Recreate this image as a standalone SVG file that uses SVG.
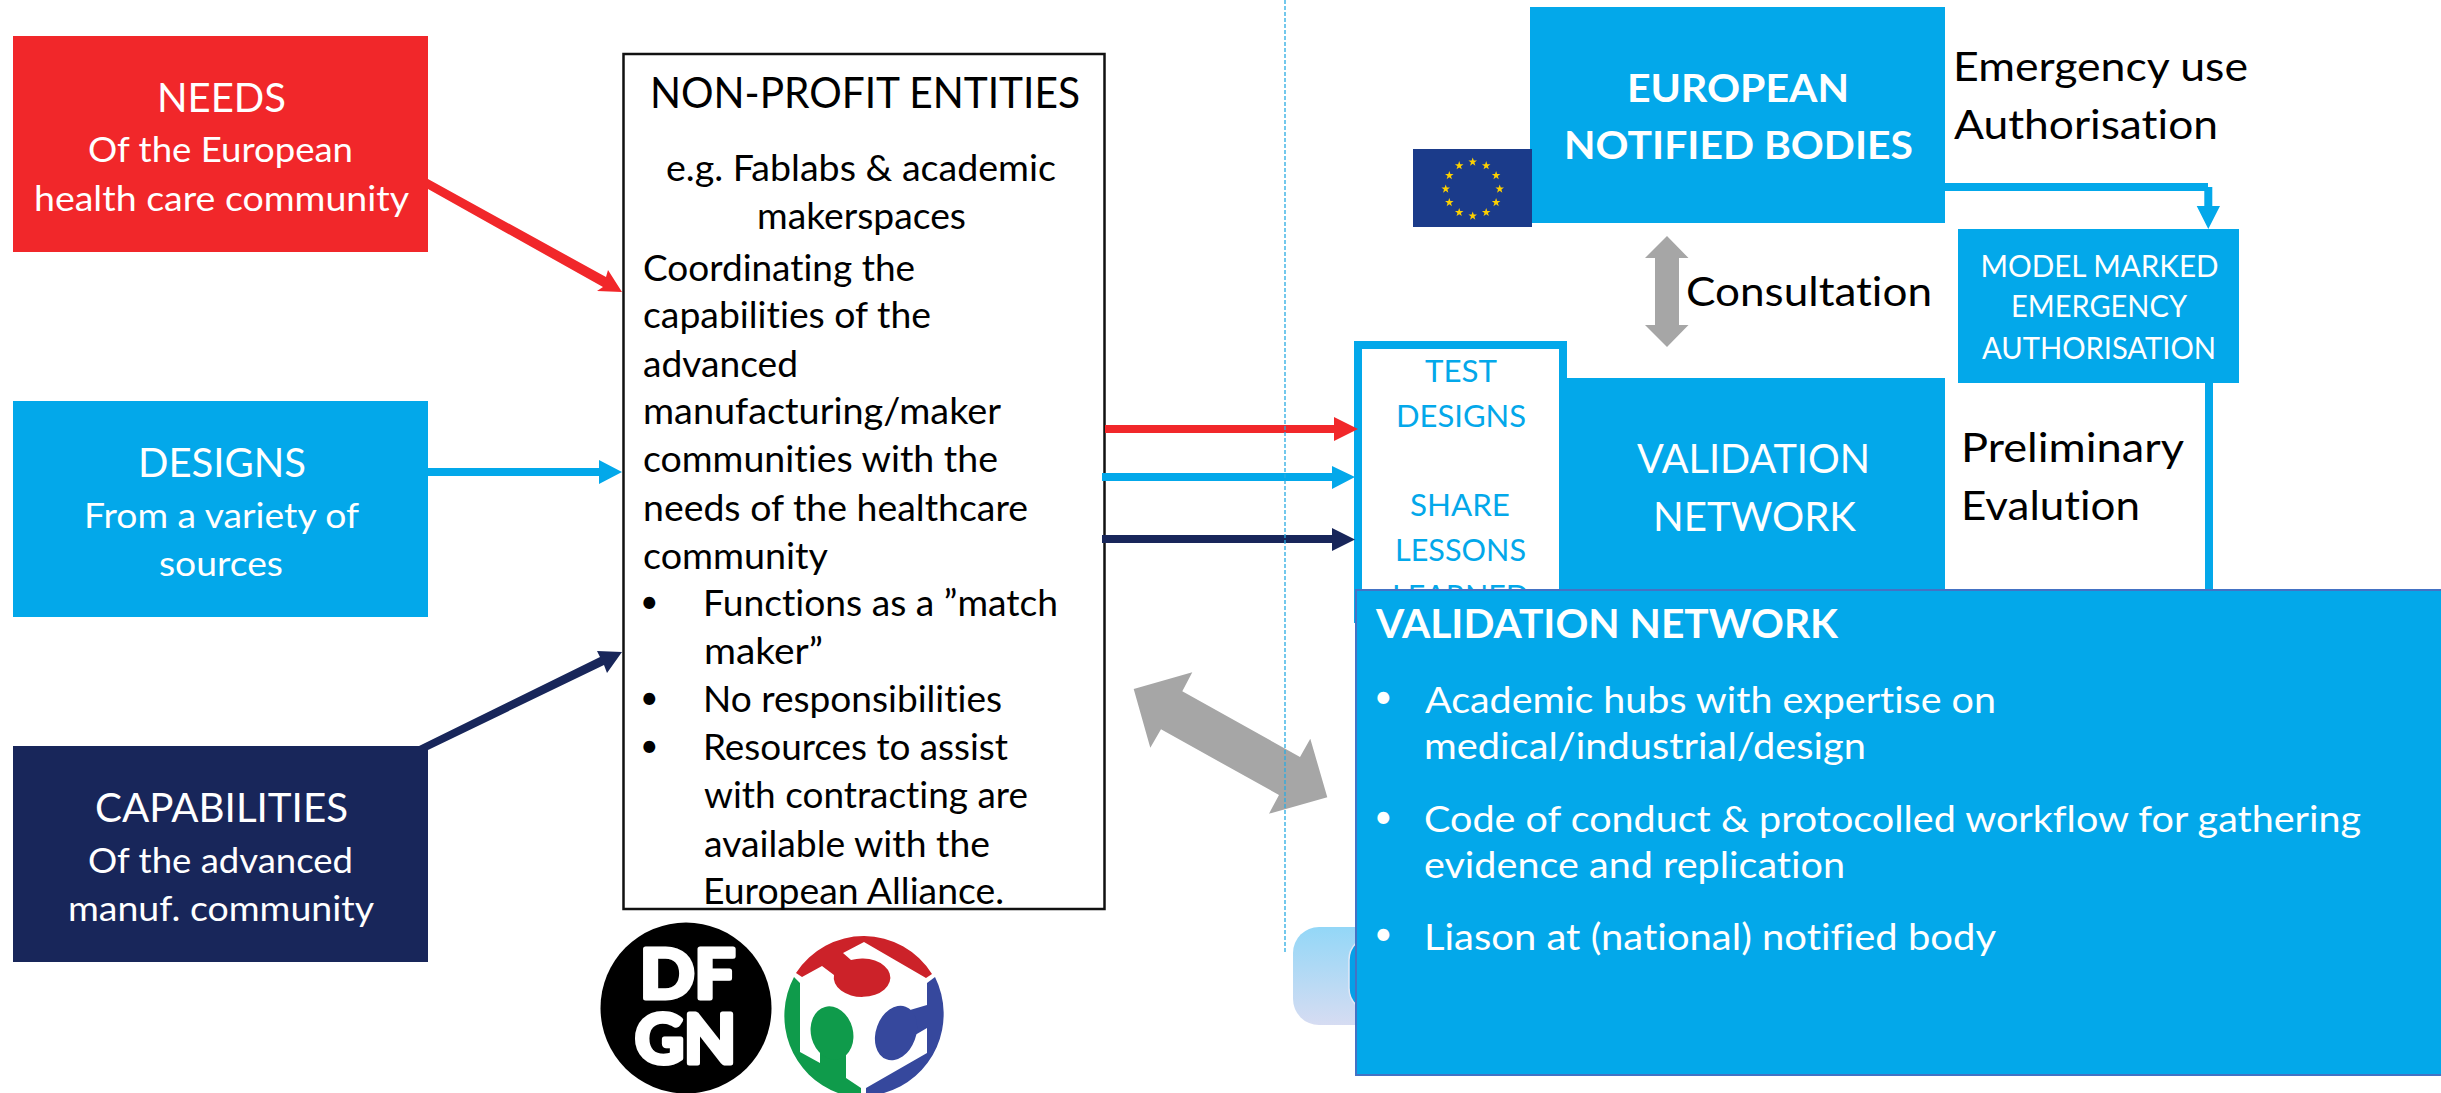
<svg xmlns="http://www.w3.org/2000/svg" xmlns:xlink="http://www.w3.org/1999/xlink" width="2441" height="1093" viewBox="0 0 2441 1093">
<style>
text{font-family:Lato,"Carlito","Liberation Sans",sans-serif;font-variant-ligatures:none}
.w{fill:#fff}.k{fill:#000}.b{fill:#03a8ea}
.f{fill:#03a8ea}.r{fill:#f1272a}.n{fill:#18265a}.g{fill:#a6a6a6}
.s40{font-size:40px}.s35{font-size:35px}.s36{font-size:36px}.s42{font-size:42px}
.s31{font-size:31px}.s30{font-size:30px}.s38{font-size:38px}.s37{font-size:37px}.s41{font-size:41px}.s32{font-size:32px}
.bold{font-weight:700}
.logo{font-size:66px;font-weight:700;fill:#fff;stroke:#fff;stroke-width:5;stroke-linejoin:round}
</style>
<defs>
<linearGradient id="glow" x1="0" y1="0" x2="0" y2="1"><stop offset="0" stop-color="#93d7f7"/><stop offset="1" stop-color="#d6dcf2"/></linearGradient>
<polygon id="star" fill="#fdd000" points="0,-4.5 1.06,-1.46 4.28,-1.39 1.71,.56 2.64,3.64 0,1.8 -2.64,3.64 -1.71,.56 -4.28,-1.39 -1.06,-1.46"/>
</defs>
<rect width="2441" height="1093" fill="#fff"/>

<g id="node-needs">
<rect class="r" x="13" y="36" width="415" height="216"/>
<text class="w s40" x="157" y="112" textLength="129" lengthAdjust="spacingAndGlyphs">NEEDS</text>
<text class="w s35" x="88" y="162" textLength="265" lengthAdjust="spacingAndGlyphs">Of the European</text>
<text class="w s35" x="34" y="211" textLength="375" lengthAdjust="spacingAndGlyphs">health care community</text>
</g>
<g id="node-designs">
<rect class="f" x="13" y="401" width="415" height="216"/>
<text class="w s40" x="138" y="477" textLength="168" lengthAdjust="spacingAndGlyphs">DESIGNS</text>
<text class="w s35" x="84" y="528" textLength="275" lengthAdjust="spacingAndGlyphs">From a variety of</text>
<text class="w s35" x="159" y="576" textLength="124" lengthAdjust="spacingAndGlyphs">sources</text>
</g>
<g id="node-capabilities">
<rect class="n" x="13" y="746" width="415" height="216"/>
<text class="w s40" x="95" y="822" textLength="253" lengthAdjust="spacingAndGlyphs">CAPABILITIES</text>
<text class="w s35" x="88" y="873" textLength="265" lengthAdjust="spacingAndGlyphs">Of the advanced</text>
<text class="w s35" x="68" y="921" textLength="306" lengthAdjust="spacingAndGlyphs">manuf. community</text>
</g>

<g id="node-nonprofit">
<rect x="623.5" y="54" width="481" height="855" fill="#fff" stroke="#111" stroke-width="2.5"/>
<text class="k s42" x="650" y="108" textLength="430" lengthAdjust="spacingAndGlyphs">NON-PROFIT ENTITIES</text>
<text class="k s36" x="666" y="181" textLength="390" lengthAdjust="spacingAndGlyphs">e.g. Fablabs &amp; academic</text>
<text class="k s36" x="757" y="229" textLength="209" lengthAdjust="spacingAndGlyphs">makerspaces</text>
<text class="k s36" x="643" y="281" textLength="272" lengthAdjust="spacingAndGlyphs">Coordinating the</text>
<text class="k s36" x="643" y="328" textLength="288" lengthAdjust="spacingAndGlyphs">capabilities of the</text>
<text class="k s36" x="643" y="377" textLength="155" lengthAdjust="spacingAndGlyphs">advanced</text>
<text class="k s36" x="643" y="424" textLength="358" lengthAdjust="spacingAndGlyphs">manufacturing/maker</text>
<text class="k s36" x="643" y="472" textLength="355" lengthAdjust="spacingAndGlyphs">communities with the</text>
<text class="k s36" x="643" y="521" textLength="385" lengthAdjust="spacingAndGlyphs">needs of the healthcare</text>
<text class="k s36" x="643" y="569" textLength="185" lengthAdjust="spacingAndGlyphs">community</text>
<text class="k s32" x="640" y="613">•</text>
<text class="k s36" x="703" y="616" textLength="355" lengthAdjust="spacingAndGlyphs">Functions as a ”match</text>
<text class="k s36" x="704" y="664" textLength="119" lengthAdjust="spacingAndGlyphs">maker”</text>
<text class="k s32" x="640" y="708.5">•</text>
<text class="k s36" x="703" y="712" textLength="299" lengthAdjust="spacingAndGlyphs">No responsibilities</text>
<text class="k s32" x="640" y="757">•</text>
<text class="k s36" x="703" y="760" textLength="305" lengthAdjust="spacingAndGlyphs">Resources to assist</text>
<text class="k s36" x="704" y="808" textLength="324" lengthAdjust="spacingAndGlyphs">with contracting are</text>
<text class="k s36" x="704" y="857" textLength="286" lengthAdjust="spacingAndGlyphs">available with the</text>
<text class="k s36" x="703" y="904" textLength="301" lengthAdjust="spacingAndGlyphs">European Alliance.</text>
</g>

<g id="node-dfgn-logo">
<circle cx="686" cy="1008" r="85.5" fill="#000"/>
<text class="logo" x="640" y="998" textLength="95" lengthAdjust="spacingAndGlyphs">DF</text>
<text class="logo" x="635" y="1063" textLength="101" lengthAdjust="spacingAndGlyphs">GN</text>
</g>
<g id="node-fablab-logo">
<path fill="#cc2229" d="M796,973 A81,82 0 0 1 932,974 L926,978 L864,942 L843,953 L851,960 A28.3,19.2 0 1 1 834,975 L822,966 L802,977 Z"/>
<path fill="#0f9b4b" d="M794,977 L800,983 L800,1052 L820,1063 L820,1045 L846,1045 L846,1078 L861,1088 L861,1093 L838,1093 A81,82 0 0 1 794,977 Z"/>
<ellipse cx="832" cy="1033" rx="21" ry="27" fill="#0f9b4b" transform="rotate(-15 832 1033)"/>
<path fill="#36489d" d="M935,977 A81,82 0 0 1 884,1093 L866,1093 L866,1088 L927,1053 L927,1028 L910,1038 L910,1010 L927,1005 L927,983 Z"/>
<ellipse cx="896" cy="1033" rx="20" ry="28" fill="#36489d" transform="rotate(20 896 1033)"/>
</g>

<g id="node-background-glow">
<rect x="1293" y="927" width="120" height="98" rx="26" fill="url(#glow)"/>
<rect x="1349" y="936" width="60" height="76" rx="24" fill="#03a0e8" stroke="#e3e8f6" stroke-width="1.5"/>
</g>

<g id="node-test-designs">
<rect class="f" x="1354" y="341" width="213" height="282"/>
<rect x="1362" y="349" width="197" height="280" fill="#fff"/>
<text class="b s31" x="1425" y="382" textLength="72" lengthAdjust="spacingAndGlyphs">TEST</text>
<text class="b s31" x="1396" y="427" textLength="130" lengthAdjust="spacingAndGlyphs">DESIGNS</text>
<text class="b s31" x="1410" y="516" textLength="100" lengthAdjust="spacingAndGlyphs">SHARE</text>
<text class="b s31" x="1395" y="561" textLength="131" lengthAdjust="spacingAndGlyphs">LESSONS</text>
<text class="b s31" x="1392" y="607" textLength="137" lengthAdjust="spacingAndGlyphs">LEARNED</text>
</g>

<g id="node-validation-block">
<rect class="f" x="1559" y="378" width="386" height="220"/>
<text class="w s40" x="1637" y="473" textLength="233" lengthAdjust="spacingAndGlyphs">VALIDATION</text>
<text class="w s40" x="1653" y="531" textLength="203" lengthAdjust="spacingAndGlyphs">NETWORK</text>
</g>

<g id="node-notified-bodies">
<rect class="f" x="1530" y="7" width="415" height="216"/>
<text class="w s38 bold" x="1627" y="102" textLength="222" lengthAdjust="spacingAndGlyphs">EUROPEAN</text>
<text class="w s38 bold" x="1564" y="159" textLength="349" lengthAdjust="spacingAndGlyphs">NOTIFIED BODIES</text>
</g>
<g id="node-eu-flag">
<rect x="1413" y="149" width="119" height="78" fill="#1b3b8a"/>
<use xlink:href="#star" href="#star" x="1472.7" y="162"/>
<use xlink:href="#star" href="#star" x="1486.2" y="165.6"/>
<use xlink:href="#star" href="#star" x="1496.1" y="175.5"/>
<use xlink:href="#star" href="#star" x="1499.7" y="189"/>
<use xlink:href="#star" href="#star" x="1496.1" y="202.5"/>
<use xlink:href="#star" href="#star" x="1486.2" y="212.4"/>
<use xlink:href="#star" href="#star" x="1472.7" y="216"/>
<use xlink:href="#star" href="#star" x="1459.2" y="212.4"/>
<use xlink:href="#star" href="#star" x="1449.3" y="202.5"/>
<use xlink:href="#star" href="#star" x="1445.7" y="189"/>
<use xlink:href="#star" href="#star" x="1449.3" y="175.5"/>
<use xlink:href="#star" href="#star" x="1459.2" y="165.6"/>
</g>
<g id="node-model-marked">
<rect class="f" x="1958" y="229" width="281" height="154"/>
<text class="w s30" x="1980.5" y="277" textLength="238" lengthAdjust="spacingAndGlyphs">MODEL MARKED</text>
<text class="w s30" x="2011" y="317" textLength="176" lengthAdjust="spacingAndGlyphs">EMERGENCY</text>
<text class="w s30" x="1982" y="359" textLength="234" lengthAdjust="spacingAndGlyphs">AUTHORISATION</text>
</g>

<g id="labels">
<text class="k s40" x="1953" y="81" textLength="295" lengthAdjust="spacingAndGlyphs">Emergency use</text>
<text class="k s40" x="1954" y="139" textLength="264" lengthAdjust="spacingAndGlyphs">Authorisation</text>
<text class="k s40" x="1686" y="306" textLength="246" lengthAdjust="spacingAndGlyphs">Consultation</text>
<text class="k s40" x="1961" y="462" textLength="223" lengthAdjust="spacingAndGlyphs">Preliminary</text>
<text class="k s40" x="1961" y="520" textLength="179" lengthAdjust="spacingAndGlyphs">Evalution</text>
</g>

<g id="connectors">
<polygon class="r" points="428,179 428,189 603,287 597,291 622,292 608,270 606,277"/>
<polygon class="f" points="428,468 599,468 599,460 622,472 599,484 599,476 428,476"/>
<polygon class="n" points="419,746 428,750 604,665 607,673 622,652 597,651 600,657"/>
<polygon class="r" points="1105,425 1334,425 1334,417 1358,429 1334,441 1334,433 1105,433"/>
<polygon class="f" points="1102,473 1332,473 1332,466 1355,477 1332,489 1332,481 1102,481"/>
<polygon class="n" points="1102,535 1332,535 1332,528 1355,539.5 1332,551 1332,543 1102,543"/>
<polygon class="g" points="1133.7,689 1192.3,672.3 1182.3,691.3 1300,757 1310.3,738.7 1327.3,797.3 1269,813.7 1279,795 1161,729.3 1150.3,747.7"/>
<polygon class="g" points="1667,236 1688.5,258 1679,258 1679,325 1688.5,325 1667,347 1645,325 1655,325 1655,258 1645,258"/>
<polygon class="f" points="1945,183 2208,183 2208,187 2212.3,187 2212.3,206 2220,206 2208.3,229 2196.7,206 2204.3,206 2204.3,191 1945,191"/>
<rect class="f" x="2205" y="383" width="8" height="208"/>
<line x1="1285" y1="0" x2="1285" y2="953" stroke="#29abe2" stroke-width="1.3" stroke-dasharray="4 2"/>
</g>

<g id="node-validation-panel">
<rect class="f" x="1356" y="590" width="1087" height="485" stroke="#4472c4" stroke-width="2"/>
<text class="w s41 bold" x="1376" y="638" textLength="462" lengthAdjust="spacingAndGlyphs">VALIDATION NETWORK</text>
<text class="w s32" x="1374" y="708">•</text>
<text class="w s37" x="1425" y="713" textLength="571" lengthAdjust="spacingAndGlyphs">Academic hubs with expertise on</text>
<text class="w s37" x="1424" y="759" textLength="442" lengthAdjust="spacingAndGlyphs">medical/industrial/design</text>
<text class="w s32" x="1374" y="827.5">•</text>
<text class="w s37" x="1424" y="832" textLength="937" lengthAdjust="spacingAndGlyphs">Code of conduct &amp; protocolled workflow for gathering</text>
<text class="w s37" x="1424" y="878" textLength="421" lengthAdjust="spacingAndGlyphs">evidence and replication</text>
<text class="w s32" x="1374" y="945">•</text>
<text class="w s37" x="1424" y="950" textLength="572" lengthAdjust="spacingAndGlyphs">Liason at (national) notified body</text>
</g>
</svg>
